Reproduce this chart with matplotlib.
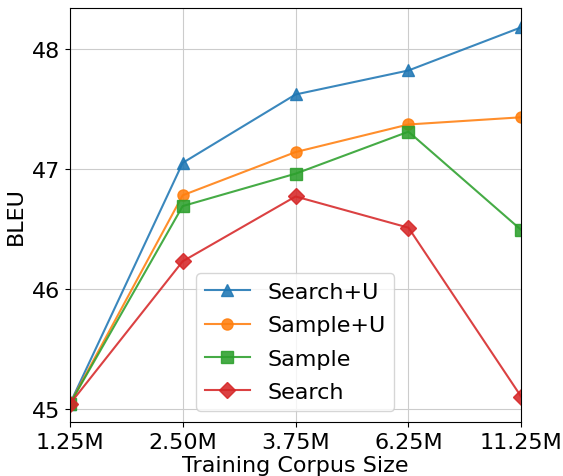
import matplotlib
matplotlib.use("Agg")
import matplotlib.pyplot as plt

sizes = ['1.25M', '2.50M', '3.75M', '6.25M', '11.25M']
search_u = [45.04, 47.05, 47.62, 47.82, 48.18]
sample_u = [45.04, 46.78, 47.14, 47.37, 47.43]
sample = [45.04, 46.69, 46.96, 47.31, 46.49]
search = [45.04, 46.23, 46.77, 46.51, 45.10]

plt.rcParams['font.size'] = 16

fig = plt.figure(figsize=(5.63, 4.77), dpi=100)
ax = fig.add_axes([0.124, 0.113, 0.802, 0.868])

x = range(len(sizes))
ax.plot(x, search_u, '-^', color='#1f77b4', markersize=8, alpha=0.88, label='Search+U')
ax.plot(x, sample_u, '-o', color='#ff7f0e', markersize=8, alpha=0.88, label='Sample+U')
ax.plot(x, sample, '-s', color='#2ca02c', markersize=8, alpha=0.88, label='Sample')
ax.plot(x, search, '-D', color='#d62728', markersize=8, alpha=0.88, label='Search')

ax.set_xticks(list(x))
ax.set_xticklabels(sizes)
ax.set_yticks([45, 46, 47, 48])
ax.set_xlim(0, 4)
ax.set_ylim(44.89, 48.34)
ax.grid(True, color='#cccccc')
ax.set_axisbelow(True)
ax.set_xlabel('Training Corpus Size', labelpad=2)
ax.set_ylabel('BLEU')

ax.legend(loc='lower left', bbox_to_anchor=(0.28, 0.027), borderaxespad=0,
          labelspacing=0.6)

fig.savefig('out.png', dpi=100)
